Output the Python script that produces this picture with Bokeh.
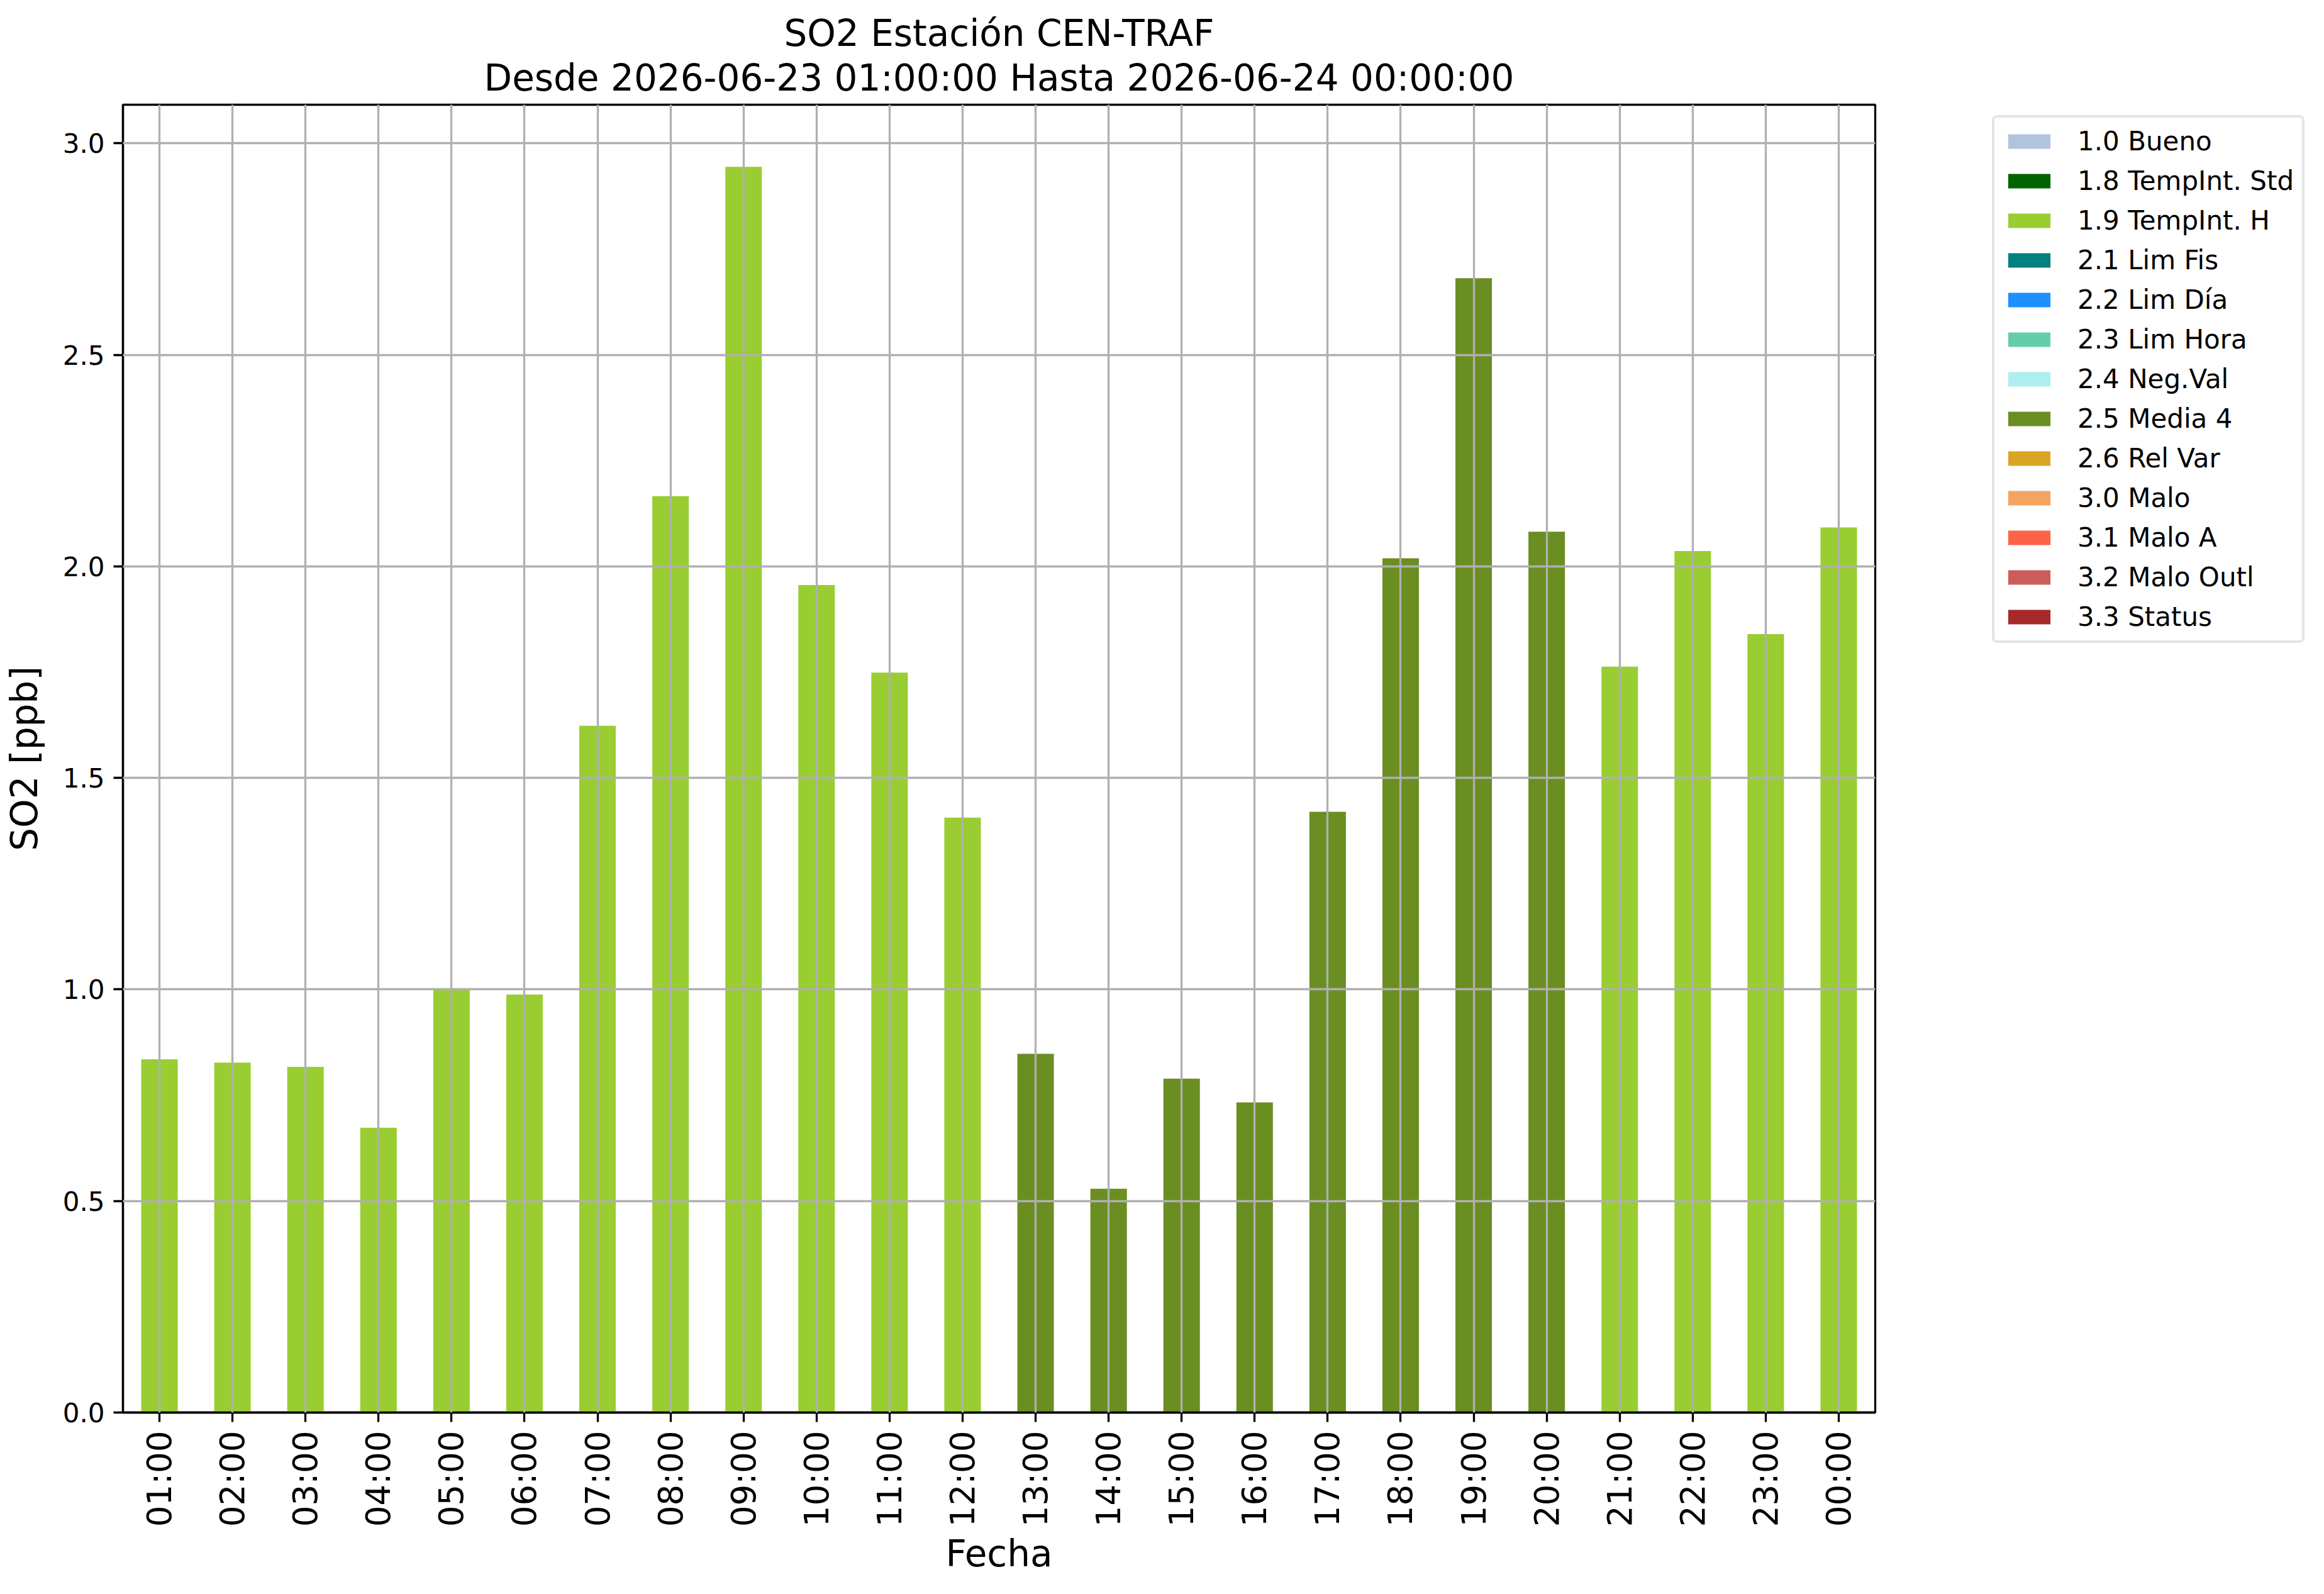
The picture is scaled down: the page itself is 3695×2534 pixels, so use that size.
import math
from bokeh.plotting import figure
from bokeh.layouts import row
from bokeh.models import (Range1d, FactorRange, Title, FixedTicker, NumeralTickFormatter,
                          ColumnDataSource, Legend)
from bokeh.embed import file_html
from bokeh.resources import INLINE

hours = ["01:00", "02:00", "03:00", "04:00", "05:00", "06:00", "07:00", "08:00",
         "09:00", "10:00", "11:00", "12:00", "13:00", "14:00", "15:00", "16:00",
         "17:00", "18:00", "19:00", "20:00", "21:00", "22:00", "23:00", "00:00"]
so2 = [0.835, 0.827, 0.817, 0.673, 1.000, 0.988, 1.623, 2.166, 2.944, 1.956, 1.749, 1.406,
       0.848, 0.529, 0.789, 0.733, 1.420, 2.019, 2.681, 2.082, 1.763, 2.036, 1.840, 2.092]
bar_flags = ["1.9"] * 12 + ["2.5"] * 8 + ["1.9"] * 4

flag_codes = ["1.0", "1.8", "1.9", "2.1", "2.2", "2.3", "2.4", "2.5", "2.6", "3.0", "3.1", "3.2", "3.3"]
flag_labels = ["1.0 Bueno", "1.8 TempInt. Std", "1.9 TempInt. H", "2.1 Lim Fis", "2.2 Lim Día",
               "2.3 Lim Hora", "2.4 Neg.Val", "2.5 Media 4", "2.6 Rel Var", "3.0 Malo",
               "3.1 Malo A", "3.2 Malo Outl", "3.3 Status"]
flag_colors = ["#b0c4de", "#006400", "#9acd32", "#008080", "#1e90ff", "#66cdaa", "#afeeee",
               "#6b8e23", "#daa520", "#f4a460", "#ff6347", "#cd5c5c", "#a52a2a"]
y_ticks = [0.0, 0.5, 1.0, 1.5, 2.0, 2.5, 3.0]

FONT = "DejaVu Sans"
TOTAL_W, TOTAL_H = 3679, 2518
MAIN_W = 2990

data = {"hour": hours}
for code in flag_codes:
    data[code] = [v if f == code else 0.0 for v, f in zip(so2, bar_flags)]
source = ColumnDataSource(data)

x_range = FactorRange(*hours)
p = figure(width=MAIN_W, height=TOTAL_H, x_range=x_range, y_range=Range1d(0, 3.091),
           output_backend="svg", toolbar_location=None, tools="")
p.min_border_left = 195
p.min_border_right = 9
p.min_border_top = 166
p.min_border_bottom = 273
p.title = None

rs = p.vbar_stack(flag_codes, x="hour", width=0.5, source=source, color=flag_colors,
                  line_color=None)

# titles
p.add_layout(Title(text="Desde 2026-06-23 01:00:00 Hasta 2026-06-24 00:00:00", align="center",
                   text_font=FONT, text_font_size="58px", text_font_style="normal",
                   text_color="black", standoff=17), "above")
p.add_layout(Title(text="SO2 Estación CEN-TRAF", align="center",
                   text_font=FONT, text_font_size="58px", text_font_style="normal",
                   text_color="black", standoff=-15), "above")

# frame
p.outline_line_color = "black"
p.outline_line_width = 3.3
p.background_fill_color = "white"
p.border_fill_color = "white"

# grid above bars
for g in (p.xgrid, p.ygrid):
    g.grid_line_color = "#b0b0b0"
    g.grid_line_width = 3.3
    g.level = "overlay"
p.ygrid.ticker = FixedTicker(ticks=y_ticks)

# axes
p.yaxis.ticker = FixedTicker(ticks=y_ticks)
p.yaxis.formatter = NumeralTickFormatter(format="0.0")
for ax in (p.xaxis, p.yaxis):
    ax.axis_line_color = "black"
    ax.axis_line_width = 3.3
    ax.major_tick_line_color = "black"
    ax.major_tick_line_width = 3.3
    ax.major_tick_out = 15
    ax.major_tick_in = 0
    ax.minor_tick_line_color = None
    ax.major_label_standoff = 14
    ax.major_label_text_font = FONT
    ax.major_label_text_color = "black"
    ax.axis_label_text_font = FONT
    ax.axis_label_text_font_style = "normal"
    ax.axis_label_text_font_size = "58px"
    ax.axis_label_text_color = "black"
p.yaxis.major_label_text_font_size = "42px"
p.xaxis.major_label_text_font_size = "53px"
p.xaxis.major_label_orientation = math.pi / 2
p.xaxis.axis_label = "Fecha"
p.yaxis.axis_label = "SO2 [ppb]"
p.xaxis.axis_label_standoff = 6
p.yaxis.axis_label_standoff = 24

# legend panel: a second figure whose stacked bars (out of view, hair-thin) carry the legend
pl = figure(width=TOTAL_W - MAIN_W, height=TOTAL_H, x_range=FactorRange(*hours),
            y_range=Range1d(100, 101), output_backend="svg", toolbar_location=None, tools="")
pl.min_border_left = 0
pl.min_border_right = 0
pl.min_border_top = 0
pl.min_border_bottom = 0
pl.axis.visible = False
pl.grid.visible = False
pl.outline_line_color = None
pl.background_fill_color = "white"
pl.border_fill_color = "white"
pl.title = None
rl = pl.vbar_stack(flag_codes, x="hour", width=0.000001, source=source, color=flag_colors,
                   line_color=None)

lg = Legend(items=[(lab, [r]) for lab, r in zip(flag_labels, rl)])
lg.location = (177, 1223)
lg.label_text_font = FONT
lg.label_text_font_size = "42px"
lg.label_text_color = "black"
lg.glyph_width = 84
lg.glyph_height = 29
lg.label_height = 42
lg.label_standoff = 35
lg.spacing = 14
lg.padding = 13
lg.margin = 0
lg.border_line_color = "#cccccc"
lg.border_line_width = 4
lg.border_radius = 8
lg.background_fill_color = "white"
lg.background_fill_alpha = 0.8
pl.add_layout(lg, "center")

layout = row(p, pl)
open("out.html", "w").write(file_html(layout, INLINE))
